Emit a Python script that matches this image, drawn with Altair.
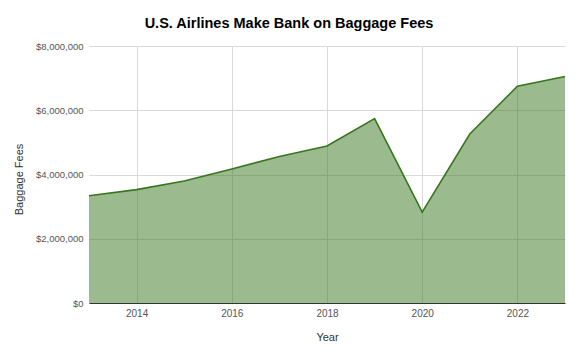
import altair as alt
import pandas as pd

years = [2013, 2014, 2015, 2016, 2017, 2018, 2019, 2020, 2021, 2022, 2023]
fees = [3340000, 3530000, 3800000, 4170000, 4560000, 4890000, 5740000, 2830000, 5260000, 6750000, 7050000]
x_ticks = [2014, 2016, 2018, 2020, 2022]
y_ticks = [0, 2000000, 4000000, 6000000, 8000000]

df = pd.DataFrame({"Year": years, "Fees": fees})
FONT = "Liberation Sans"
GREEN = "#38761d"

x = alt.X("Year:Q", scale=alt.Scale(domain=[2013, 2023], nice=False, zero=False),
          axis=alt.Axis(values=x_ticks, format="d", title="Year", ticks=False,
                        labelPadding=5, labelFontSize=10, labelColor="#555555", labelFont=FONT,
                        titleFont=FONT, titleFontSize=11, titleFontWeight="normal", titleColor="#333333",
                        titleX=238, titleY=34, titleBaseline="middle",
                        grid=True, gridColor="#d9d9d9", domainColor="#333333", domainWidth=1))
y = alt.Y("Fees:Q", scale=alt.Scale(domain=[0, 8000000], nice=False),
          axis=alt.Axis(values=y_ticks, format="$,.0f", title="Baggage Fees", ticks=False,
                        labelPadding=6, labelFontSize=9.5, labelColor="#555555", labelFont=FONT,
                        titleFont=FONT, titleFontSize=11, titleFontWeight="normal", titleColor="#333333",
                        titleAngle=-90, titleX=-70, titleY=133, titleAlign="center", titleBaseline="middle",
                        grid=True, gridColor="#d9d9d9", domain=False))

area = alt.Chart(df).mark_area(color=GREEN, opacity=0.5).encode(x=x, y=y)
line = alt.Chart(df).mark_line(color=GREEN, strokeWidth=1.6).encode(x="Year:Q", y="Fees:Q")

chart = (area + line).properties(
    width=476, height=257,
    autosize=alt.AutoSizeParams(type="none"),
    padding={"left": 89, "top": 46, "right": 10, "bottom": 49},
    title=alt.TitleParams("U.S. Airlines Make Bank on Baggage Fees", font=FONT, fontSize=14.5,
                          fontWeight="bold", color="#000000", anchor="middle", frame="group",
                          dx=-38, offset=10),
).configure_view(stroke=None)

chart.save("out.html", embed_options={"renderer": "svg", "actions": False})
